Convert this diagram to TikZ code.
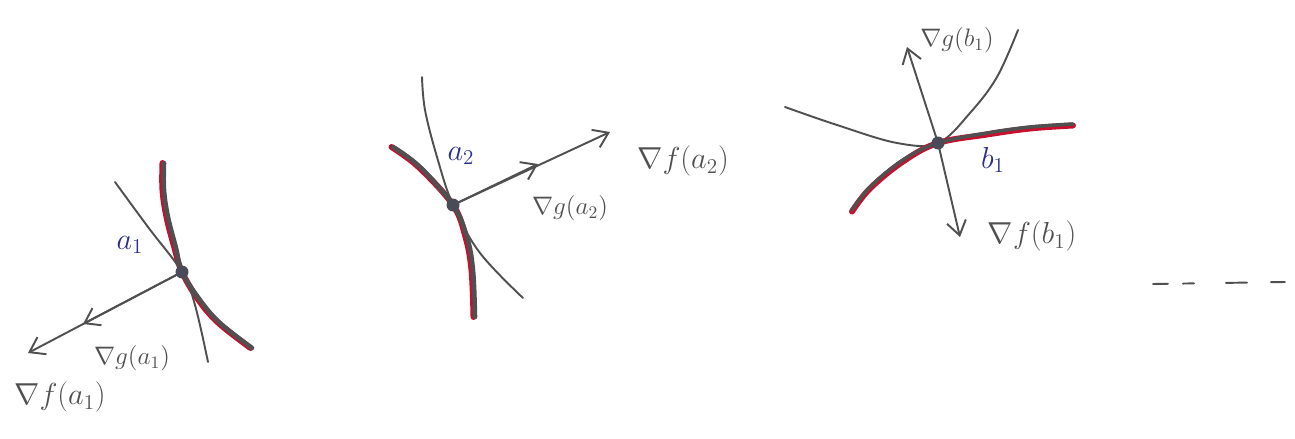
\documentclass[tikz,border=0pt]{standalone}
\usetikzlibrary{arrows.meta}
\definecolor{pencil}{HTML}{505050}
\definecolor{inkblue}{HTML}{2A2F8C}
\definecolor{marker}{HTML}{C8102E}
\begin{document}
\begin{tikzpicture}[
    x=0.02cm, y=-0.02cm,
    thinc/.style={pencil, line width=1.1pt, line cap=round},
    thickc/.style={pencil, line width=2.6pt, line cap=round},
    redc/.style={marker, line width=3.4pt, line cap=round},
    pt/.style={circle, fill=pencil!85!inkblue, inner sep=0pt, minimum size=0.26cm},
    vec/.style={pencil, line width=1.1pt, -{Straight Barb[length=8pt,width=11pt]}},
    lbl/.style={text=inkblue, font=\LARGE},
    gradf/.style={text=pencil, font=\LARGE},
    gradg/.style={text=pencil, font=\Large}
]
\useasboundingbox (0,0) rectangle (1295,439);
% Points where the curves touch
\coordinate (a1) at (182,272);
\coordinate (a2) at (453,205);
\coordinate (b1) at (938,143);
% Arrow tips
\coordinate (a1g) at (83,324);
\coordinate (a1f) at (28,353);
\coordinate (a2g) at (538,164);
\coordinate (a2f) at (610,132);
\coordinate (b1g) at (907,47);
\coordinate (b1f) at (960,237);

% Left point a_1
\draw[redc, xshift=-0.03cm] plot[smooth, tension=0.6] coordinates {(164,163) (164,190) (168,217) (176,248) (a1) (200,300) (220,323) (252,348)};
\draw[thickc] plot[smooth, tension=0.6] coordinates {(164,163) (164,190) (168,217) (176,248) (a1) (200,300) (220,323) (252,348)};
\draw[thinc] plot[smooth, tension=0.6] coordinates {(115,182) (148,227) (a1) (195,305) (208,362)};
\draw[vec] (a1) -- (a1g);
\draw[vec] (a1) -- (a1f);
\node[pt] (a1dot) at (a1) {};
\node[lbl] (a1lbl) at (130,245) {$a_1$};
\node[gradg] (a1glbl) at (132,358) {$\nabla g(a_1)$};
\node[gradf] (a1flbl) at (60,397) {$\nabla f(a_1)$};

% Middle point a_2
\draw[redc, xshift=-0.03cm] plot[smooth, tension=0.6] coordinates {(393,147) (420,167) (a2) (467,237) (473,270) (475,317)};
\draw[thickc] plot[smooth, tension=0.6] coordinates {(393,147) (420,167) (a2) (467,237) (473,270) (475,317)};
\draw[thinc] plot[smooth, tension=0.6] coordinates {(422,77) (425,110) (437,157) (a2) (480,253) (523,298)};
\draw[vec] (a2) -- (a2g);
\draw[vec] (a2) -- (a2f);
\node[pt] (a2dot) at (a2) {};
\node[lbl] (a2lbl) at (461,156) {$a_2$};
\node[gradg] (a2glbl) at (570,208) {$\nabla g(a_2)$};
\node[gradf] (a2flbl) at (683,161) {$\nabla f(a_2)$};

% Right point b_1
\draw[thinc] plot[smooth, tension=0.6] coordinates {(785,107) (837,125) (897,143) (b1) (970,113) (997,77) (1018,30)};
\draw[redc, yshift=-0.03cm] plot[smooth, tension=0.6] coordinates {(852,210) (870,187) (903,160) (b1) (987,133) (1030,127) (1073,124)};
\draw[thickc, line width=2pt] plot[smooth, tension=0.6] coordinates {(852,210) (870,187) (903,160) (b1) (987,133) (1030,127) (1073,124)};
\draw[vec] (b1) -- (b1g);
\draw[vec] (b1) -- (b1f);
\node[pt] (b1dot) at (b1) {};
\node[lbl] (b1lbl) at (993,160) {$b_1$};
\node[gradg] (b1glbl) at (957,40) {$\nabla g(b_1)$};
\node[gradf] (b1flbl) at (1032,236) {$\nabla f(b_1)$};

% Trailing dashes
\coordinate (dashL) at (1153,284);
\coordinate (dashR) at (1285,282);
\draw[thinc, dash pattern=on 0.3cm off 0.3cm on 0.22cm off 0.64cm on 0.42cm off 0.48cm on 0.3cm] (dashL) -- (dashR);
\end{tikzpicture}
\end{document}
